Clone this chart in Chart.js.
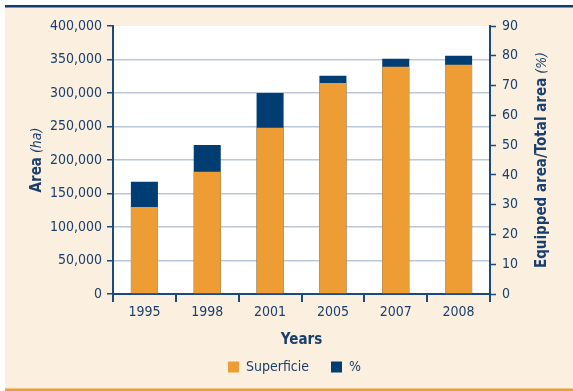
<!DOCTYPE html>
<html>
<head>
<meta charset="utf-8">
<script src="https://cdn.jsdelivr.net/npm/chart.js@4.4.1/dist/chart.umd.min.js"></script>
<style>
  html, body { margin: 0; padding: 0; background: #ffffff; }
  #wrap { width: 573px; height: 391px; }
  canvas { display: block; }
</style>
</head>
<body>
<div id="wrap"><canvas id="chart" width="573" height="391"></canvas></div>
<script>
// Equipped area by year, and equipped share of total area
const years = ['1995', '1998', '2001', '2005', '2007', '2008'];
const superficie = [130000, 182500, 248000, 315000, 339000, 342000];
const percentEquipped = [37.7, 50, 67.5, 73.3, 79, 80];

const FONT = "'Liberation Sans Narrow', 'DejaVu Sans Condensed', 'Liberation Sans', sans-serif";
const TEXT = '#1a3f6d';
const AXIS = '#1d4a7c';
const GRID = '#b9c7d8';
const ORANGE = '#ee9c34';
const NAVY = '#003d73';
const BEIGE = '#fbefe0';

const framePlugin = {
  id: 'frame',
  beforeDraw(chart) {
    const { ctx, chartArea: a } = chart;
    ctx.save();
    ctx.fillStyle = '#ffffff';
    ctx.fillRect(0, 0, chart.width, chart.height);
    ctx.fillStyle = BEIGE;
    ctx.fillRect(5, 7, chart.width - 5, chart.height - 9);
    ctx.fillStyle = '#0f3d6e';
    ctx.fillRect(5, 5, chart.width - 5, 2.5);
    ctx.fillStyle = ORANGE;
    ctx.fillRect(5, chart.height - 2.5, chart.width - 5, 2.5);
    ctx.fillStyle = '#ffffff';
    ctx.fillRect(a.left, a.top, a.right - a.left, a.bottom - a.top);
    ctx.restore();
  },
  afterDraw(chart) {
    const { ctx, chartArea: a } = chart;
    const mid = (a.top + a.bottom) / 2;
    const drawTitle = (x, parts) => {
      ctx.save();
      ctx.translate(x, mid);
      ctx.rotate(-Math.PI / 2);
      ctx.textBaseline = 'middle';
      ctx.fillStyle = TEXT;
      let total = 0;
      parts.forEach(p => { ctx.font = p.font; p.w = ctx.measureText(p.text).width; total += p.w; });
      let cx = -total / 2;
      parts.forEach(p => { ctx.font = p.font; ctx.fillText(p.text, cx, 0); cx += p.w; });
      ctx.restore();
    };
    drawTitle(37, [
      { text: 'Area', font: 'bold 15px ' + FONT },
      { text: ' (ha)', font: 'italic 14px ' + FONT }
    ]);
    drawTitle(542, [
      { text: 'Equipped area/Total area', font: 'bold 15px ' + FONT },
      { text: ' (%)', font: 'italic 14px ' + FONT }
    ]);
  }
};

new Chart(document.getElementById('chart'), {
  type: 'bar',
  data: {
    labels: years,
    datasets: [
      {
        label: 'Superficie',
        data: superficie,
        yAxisID: 'y',
        backgroundColor: ORANGE,
        grouped: false,
        categoryPercentage: 1,
        barPercentage: 0.43
      },
      {
        label: '%',
        data: percentEquipped,
        yAxisID: 'y1',
        backgroundColor: NAVY,
        grouped: false,
        categoryPercentage: 1,
        barPercentage: 0.43
      }
    ]
  },
  options: {
    responsive: false,
    animation: false,
    devicePixelRatio: 1,
    layout: { padding: { left: 16, right: 0, top: 26, bottom: 7 } },
    plugins: {
      tooltip: { enabled: false },
      legend: {
        position: 'bottom',
        labels: {
          boxWidth: 11,
          boxHeight: 11,
          padding: 22,
          color: TEXT,
          font: { family: FONT, size: 14 }
        }
      }
    },
    scales: {
      x: {
        afterFit(scale) { scale.height = 44; },
        grid: {
          drawOnChartArea: false,
          drawTicks: true,
          tickLength: 8,
          tickColor: AXIS,
          lineWidth: 2
        },
        border: { color: AXIS, width: 2 },
        ticks: { color: TEXT, padding: 2, font: { family: FONT, size: 14 } },
        title: {
          display: true,
          text: 'Years',
          color: TEXT,
          padding: { top: 0, bottom: -11 },
          font: { family: FONT, size: 15, weight: 'bold' }
        }
      },
      y: {
        position: 'left',
        min: 0,
        max: 400000,
        afterFit(scale) { scale.width = 97; },
        grid: {
          color: ctx => (ctx.tick && ctx.tick.value === 400000 ? 'rgba(0,0,0,0)' : GRID),
          lineWidth: 1.5,
          tickLength: 6,
          tickColor: AXIS,
          tickWidth: 1.5
        },
        border: { color: AXIS, width: 2 },
        ticks: {
          stepSize: 50000,
          color: TEXT,
          padding: 5,
          font: { family: FONT, size: 14 },
          callback: v => v.toLocaleString('en-US')
        }
      },
      y1: {
        position: 'right',
        min: 0,
        max: 90,
        afterFit(scale) { scale.width = 83; },
        grid: {
          drawOnChartArea: false,
          tickLength: 6,
          tickColor: AXIS,
          tickWidth: 1.5
        },
        border: { color: AXIS, width: 2 },
        ticks: {
          stepSize: 10,
          color: TEXT,
          padding: 6,
          font: { family: FONT, size: 14 }
        }
      }
    }
  },
  plugins: [framePlugin]
});
</script>
</body>
</html>
